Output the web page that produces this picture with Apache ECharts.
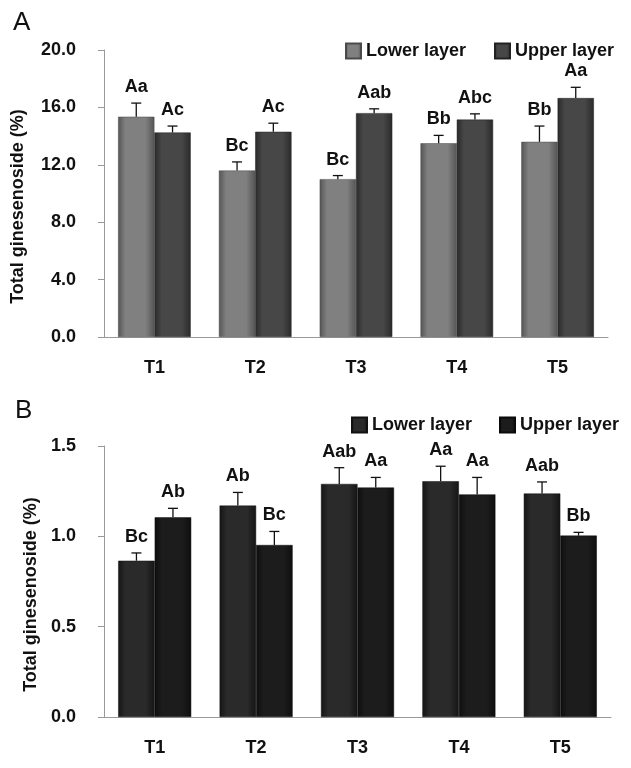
<!DOCTYPE html>
<html>
<head>
<meta charset="utf-8">
<script src="https://cdn.jsdelivr.net/npm/echarts@6/dist/echarts.min.js"></script>
<style>
  html, body { margin: 0; padding: 0; background: #fff; }
  #chart { width: 631px; height: 768px; }
</style>
</head>
<body>
<div id="chart"></div>
<script>
const categories = ['T1', 'T2', 'T3', 'T4', 'T5']

// panel A
const lowerA = [15.35, 11.6, 11.0, 13.5, 13.6]
const lowerAErr = [0.95, 0.6, 0.25, 0.55, 1.1]
const lowerALabels = ['Aa', 'Bc', 'Bc', 'Bb', 'Bb']
const upperA = [14.25, 14.3, 15.6, 15.15, 16.65]
const upperAErr = [0.45, 0.6, 0.3, 0.4, 0.75]
const upperALabels = ['Ac', 'Ac', 'Aab', 'Abc', 'Aa']
const ticksA = [0, 4, 8, 12, 16, 20]

// panel B
const lowerB = [0.865, 1.17, 1.29, 1.305, 1.237]
const lowerBErr = [0.043, 0.073, 0.09, 0.083, 0.064]
const lowerBLabels = ['Bc', 'Ab', 'Aab', 'Aa', 'Aab']
const upperB = [1.105, 0.952, 1.27, 1.232, 1.004]
const upperBErr = [0.05, 0.075, 0.056, 0.094, 0.018]
const upperBLabels = ['Ab', 'Bc', 'Aa', 'Aa', 'Bb']
const ticksB = [0, 0.5, 1.0, 1.5]

const FONT = '"Liberation Sans", Arial, sans-serif'

function grad(edge, mid) {
    return new echarts.graphic.LinearGradient(0, 0, 1, 0, [
        { offset: 0, color: edge },
        { offset: 0.2, color: mid },
        { offset: 0.75, color: mid },
        { offset: 1, color: edge },
    ])
}

// error bar (upper half only) + letter label above it
function errRender(vals, errs, labels, side) {
    return function (params, api) {
        const i = params.dataIndex
        const band = api.size([1, 0])[0]
        const x = api.coord([i, 0])[0] + side * band * 0.18
        const yTop = api.coord([i, vals[i]])[1]
        const yErr = api.coord([i, vals[i] + errs[i]])[1]
        const st = { stroke: '#111', lineWidth: 1.3 }
        return {
            type: 'group',
            children: [
                { type: 'line', shape: { x1: x, y1: yTop, x2: x, y2: yErr }, style: st },
                { type: 'line', shape: { x1: x - 5, y1: yErr, x2: x + 5, y2: yErr }, style: st },
                {
                    type: 'text',
                    x: x,
                    y: yErr - 7,
                    style: {
                        text: labels[i],
                        align: 'center',
                        verticalAlign: 'bottom',
                        fontSize: 18,
                        fontWeight: 'bold',
                        fontFamily: FONT,
                        fill: '#111',
                    },
                },
            ],
        }
    }
}

function errSeries(idx, vals, errs, labels, side) {
    return {
        type: 'custom',
        xAxisIndex: idx,
        yAxisIndex: idx,
        z: 5,
        silent: true,
        renderItem: errRender(vals, errs, labels, side),
        data: vals.map((v, i) => [i, v + errs[i]]),
    }
}

function yAxis(idx, ticks, gap) {
    return {
        type: 'value',
        gridIndex: idx,
        min: ticks[0],
        max: ticks[ticks.length - 1],
        interval: ticks[1] - ticks[0],
        name: 'Total ginesenoside (%)',
        nameLocation: 'middle',
        nameGap: gap,
        nameTextStyle: {
            fontSize: 18, fontWeight: 'bold', fontFamily: FONT, color: '#111',
            padding: [0, 26, 0, 0],
        },
        axisLine: { show: true, lineStyle: { color: '#999', width: 1 } },
        axisTick: { show: true, length: 6, lineStyle: { color: '#999' } },
        splitLine: { show: false },
        axisLabel: {
            margin: 28,
            fontSize: 18,
            fontWeight: 'bold',
            fontFamily: FONT,
            color: '#111',
            formatter: (v) => v.toFixed(1),
        },
    }
}

function xAxis(idx) {
    return {
        type: 'category',
        gridIndex: idx,
        data: categories,
        axisLine: { lineStyle: { color: '#999', width: 1 } },
        axisTick: { length: 6, lineStyle: { color: '#999' } },
        axisLabel: { margin: 22, fontSize: 18, fontWeight: 'bold', fontFamily: FONT, color: '#111' },
    }
}

function legend(name, left, top) {
    return {
        data: [name],
        formatter: (n) => n.slice(0, -2),
        left: left, top: top,
        icon: 'rect',
        itemWidth: 15, itemHeight: 15,
        textStyle: { fontSize: 18, fontWeight: 'bold', fontFamily: FONT, color: '#111' },
    }
}

const option = {
    backgroundColor: '#fff',
    animation: false,
    title: [
        { text: 'A', left: 8, top: 5, textStyle: { fontSize: 26, fontWeight: 'normal', fontFamily: FONT, color: '#111' } },
        { text: 'B', left: 10, top: 393, textStyle: { fontSize: 26, fontWeight: 'normal', fontFamily: FONT, color: '#111' } },
    ],
    legend: [
        legend('Lower layer A', 340, 37),
        legend('Upper layer A', 489, 37),
        legend('Lower layer B', 346, 411),
        legend('Upper layer B', 494, 411),
    ],
    grid: [
        { left: 104, top: 50, width: 504, height: 287 },
        { left: 104, top: 446, width: 507, height: 271 },
    ],
    xAxis: [xAxis(0), xAxis(1)],
    yAxis: [yAxis(0, ticksA, 77), yAxis(1, ticksB, 64)],
    series: [
        {
            name: 'Lower layer A', type: 'bar', xAxisIndex: 0, yAxisIndex: 0,
            barGap: '0%', barCategoryGap: '28%',
            itemStyle: { color: grad('#555', '#808080'), borderColor: '#4a4a4a', borderWidth: 0.5 },
            data: lowerA,
        },
        {
            name: 'Upper layer A', type: 'bar', xAxisIndex: 0, yAxisIndex: 0,
            barGap: '0%', barCategoryGap: '28%',
            itemStyle: { color: grad('#2a2a2a', '#474747'), borderColor: '#222', borderWidth: 0.5 },
            data: upperA,
        },
        {
            name: 'Lower layer B', type: 'bar', xAxisIndex: 1, yAxisIndex: 1,
            barGap: '0%', barCategoryGap: '28%',
            itemStyle: { color: grad('#151515', '#2a2a2a'), borderColor: '#111', borderWidth: 0.5 },
            data: lowerB,
        },
        {
            name: 'Upper layer B', type: 'bar', xAxisIndex: 1, yAxisIndex: 1,
            barGap: '0%', barCategoryGap: '28%',
            itemStyle: { color: grad('#0e0e0e', '#1c1c1c'), borderColor: '#0a0a0a', borderWidth: 0.5 },
            data: upperB,
        },
        errSeries(0, lowerA, lowerAErr, lowerALabels, -1),
        errSeries(0, upperA, upperAErr, upperALabels, 1),
        errSeries(1, lowerB, lowerBErr, lowerBLabels, -1),
        errSeries(1, upperB, upperBErr, upperBLabels, 1),
    ],
}

const myChart = echarts.init(document.getElementById('chart'))
myChart.setOption(option)
</script>
</body>
</html>
